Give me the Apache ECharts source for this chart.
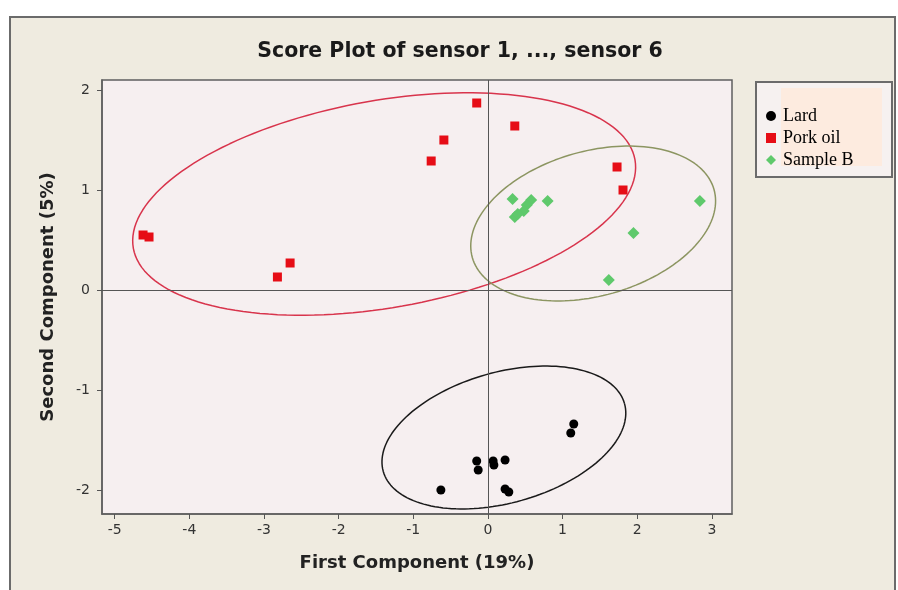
<!DOCTYPE html>
<html>
<head>
<meta charset="utf-8">
<script src="https://cdn.jsdelivr.net/npm/echarts@6/dist/echarts.min.js"></script>
<style>
  html, body { margin: 0; padding: 0; background: #ffffff; }
  #chart { width: 898px; height: 590px; }
</style>
</head>
<body>
<div id="chart"></div>
<script>
// scores: [first component, second component]
const lard = [
  [1.15, -1.34], [1.11, -1.43], [-0.15, -1.71], [-0.13, -1.80], [0.07, -1.71],
  [0.08, -1.75], [0.23, -1.70], [-0.63, -2.00], [0.23, -1.99], [0.28, -2.02]
]
const porkOil = [
  [-4.62, 0.55], [-4.54, 0.53], [-2.65, 0.27], [-2.82, 0.13], [-0.15, 1.87],
  [0.36, 1.64], [-0.59, 1.50], [-0.76, 1.29], [1.73, 1.23], [1.81, 1.00]
]
const sampleB = [
  [0.33, 0.91], [0.58, 0.90], [0.52, 0.85], [0.48, 0.79], [0.36, 0.73],
  [0.40, 0.76], [0.80, 0.89], [2.84, 0.89], [1.95, 0.57], [1.62, 0.10]
]

// confidence ellipses: centre and two half-axis vectors (data units)
const lardEllipse = { center: [0.214, -1.475], major: [1.616, 0.339], minor: [-0.237, 0.629] }
const porkEllipse = { center: [-1.39, 0.86], major: [3.36, 0.443], minor: [-0.244, 1.02] }
const sampleEllipse = { center: [1.41, 0.665], major: [1.619, 0.340], minor: [-0.262, 0.696] }

const xTicks = [-5, -4, -3, -2, -1, 0, 1, 2, 3]
const yTicks = [-2, -1, 0, 1, 2]
const refLines = [0]

function ellipsePath(e) {
    const pts = []
    const n = 160
    for (let i = 0; i <= n; i++) {
        const t = 2 * Math.PI * i / n
        pts.push([
            e.center[0] + e.major[0] * Math.cos(t) + e.minor[0] * Math.sin(t),
            e.center[1] + e.major[1] * Math.cos(t) + e.minor[1] * Math.sin(t)
        ])
    }
    return pts
}

function ellipseSeries(name, e, color) {
    return {
        name: name,
        type: 'line',
        data: ellipsePath(e),
        showSymbol: false,
        silent: true,
        smooth: false,
        lineStyle: { color: color, width: 1.5 },
        z: 1
    }
}

const myChart = echarts.init(document.getElementById('chart'))

const options = {
    animation: false,
    textStyle: { fontFamily: 'DejaVu Sans' },
    graphic: [
        {
            type: 'rect', z: -10,
            shape: { x: 10, y: 17, width: 885, height: 600 },
            style: { fill: '#efebe0', stroke: '#6b6b6b', lineWidth: 2 }
        },
        {
            type: 'rect', z: 1,
            shape: { x: 756, y: 82, width: 136, height: 95 },
            style: { fill: '#f6f1f0', stroke: '#6b6b6b', lineWidth: 2 }
        },
        {
            type: 'rect', z: 2,
            shape: { x: 781, y: 88, width: 101, height: 78 },
            style: { fill: '#fdebdf' }
        },
        {
            type: 'text', z: 5,
            style: {
                text: 'Score Plot of sensor 1, ..., sensor 6',
                x: 460, y: 52,
                textAlign: 'center', textVerticalAlign: 'middle',
                font: 'bold 20.5px "DejaVu Sans"',
                fill: '#1a1a1a'
            }
        }
    ],
    legend: {
        data: ['Lard', 'Pork oil', 'Sample B'],
        orient: 'vertical',
        left: 761,
        top: 102,
        itemWidth: 10,
        itemHeight: 10,
        itemGap: 4,
        z: 6,
        textStyle: {
            fontFamily: 'Liberation Serif',
            fontSize: 18,
            lineHeight: 18,
            color: '#000',
            padding: [0, 0, 0, 2]
        }
    },
    grid: {
        left: 102,
        right: 166,
        top: 80,
        bottom: 76,
        show: true,
        backgroundColor: '#f6eff0',
        borderColor: '#5f5f5f',
        borderWidth: 1.5
    },
    xAxis: {
        type: 'value',
        min: -5.17,
        max: 3.27,
        name: 'First Component (19%)',
        nameLocation: 'middle',
        nameGap: 40,
        nameTextStyle: { fontWeight: 'bold', fontSize: 18, color: '#222' },
        axisLine: { show: true, onZero: false, lineStyle: { color: '#5f5f5f', width: 1.5 } },
        splitLine: { show: false },
        axisTick: { show: true, length: 5, customValues: xTicks, lineStyle: { color: '#555' } },
        axisLabel: { customValues: xTicks, fontSize: 14, color: '#333', margin: 9 }
    },
    yAxis: {
        type: 'value',
        min: -2.24,
        max: 2.1,
        name: 'Second Component (5%)',
        nameLocation: 'middle',
        nameGap: 45,
        nameTextStyle: { fontWeight: 'bold', fontSize: 18, color: '#222' },
        axisLine: { show: true, onZero: false, lineStyle: { color: '#5f5f5f', width: 1.5 } },
        splitLine: { show: false },
        axisTick: { show: true, length: 5, customValues: yTicks, lineStyle: { color: '#555' } },
        axisLabel: { customValues: yTicks, fontSize: 14, color: '#333', margin: 12 }
    },
    series: [
        ellipseSeries('Lard ellipse', lardEllipse, '#1a1a1a'),
        ellipseSeries('Pork ellipse', porkEllipse, '#d8344c'),
        ellipseSeries('Sample ellipse', sampleEllipse, '#8c9561'),
        {
            name: 'Lard',
            type: 'scatter',
            symbol: 'circle',
            symbolSize: 9,
            itemStyle: { color: '#000000', opacity: 1 },
            data: lard,
            z: 3,
            markLine: {
                silent: true,
                symbol: 'none',
                label: { show: false },
                lineStyle: { color: '#555', width: 1, type: 'solid' },
                data: refLines.map(v => ({ xAxis: v })).concat(refLines.map(v => ({ yAxis: v })))
            }
        },
        {
            name: 'Pork oil',
            type: 'scatter',
            symbol: 'rect',
            symbolSize: 9,
            itemStyle: { color: '#e60d16', opacity: 1 },
            data: porkOil,
            z: 3
        },
        {
            name: 'Sample B',
            type: 'scatter',
            symbol: 'diamond',
            symbolSize: 12,
            itemStyle: { color: '#5fc96c', opacity: 1 },
            data: sampleB,
            z: 3
        }
    ]
}

myChart.setOption(options)
</script>
</body>
</html>
